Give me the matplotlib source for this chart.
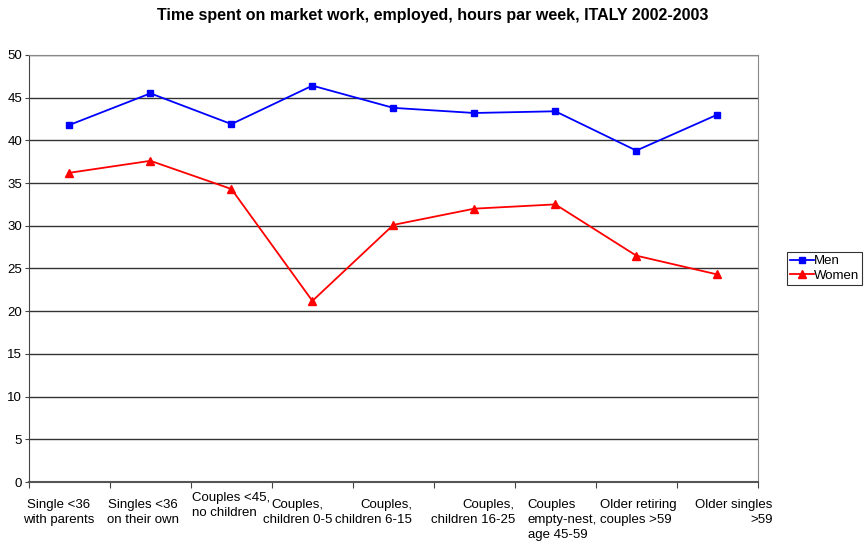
import matplotlib.pyplot as plt
import numpy as np

plt.rcParams['font.family'] = ['Liberation Sans', 'DejaVu Sans']

# ── data ─────────────────────────────
categories = ["Single <36\nwith parents", "Singles <36\non their own",
              "Couples <45,\nno children", "Couples,\nchildren 0-5",
              "Couples,\nchildren 6-15", "Couples,\nchildren 16-25",
              "Couples\nempty-nest,\nage 45-59", "Older retiring\ncouples >59",
              "Older singles\n>59"]
men = [41.8, 45.5, 41.9, 46.4, 43.8, 43.2, 43.4, 38.8, 43.0]
women = [36.2, 37.6, 34.3, 21.2, 30.1, 32.0, 32.5, 26.5, 24.3]

# Excel-style label placement: (x in data units, alignment, y in axes fraction)
label_x = [-0.13, 0.907, 1.512, 2.82, 4.23, 5.50, 5.66, 6.55, 8.685]
label_ha = ["center", "center", "left", "center", "right", "right", "left", "left", "right"]
label_y = [-0.040, -0.040, -0.023, -0.040, -0.040, -0.040, -0.040, -0.040, -0.040]

# ── figure ───────────────────────────
fig = plt.figure(figsize=(8.65, 5.49), dpi=100)
ax = fig.add_axes([0.0335, 0.122, 0.8425, 0.778])

x = np.arange(len(categories))
ax.plot(x, men, color="#0000ff", marker="s", markersize=5, lw=1.3, label="Men")
ax.plot(x, women, color="#ff0000", marker="^", markersize=5.5, lw=1.3, label="Women")

ax.set_xlim(-0.5, len(categories) - 0.5)
ax.set_ylim(0, 50)
ax.set_yticks(np.arange(0, 51, 5))
ax.yaxis.grid(True, color="#333333", lw=1)
ax.set_axisbelow(True)

# category boundaries as tick marks, labels drawn as text
ax.set_xticks(np.arange(-0.5, len(categories)))
ax.set_xticklabels([])
ax.tick_params(axis="x", length=4, direction="out", color="#444444")
ax.tick_params(axis="y", length=3, direction="out", labelsize=9.5, pad=2, color="#444444")

for i, lab in enumerate(categories):
    ax.text(label_x[i], label_y[i], lab, transform=ax.get_xaxis_transform(),
            ha=label_ha[i], ma=label_ha[i], va="top", fontsize=9.5, linespacing=1.35)

for sp in ["top", "right"]:
    ax.spines[sp].set_color("#888888")
ax.spines["left"].set_color("#444444")
ax.spines["bottom"].set_color("#555555")
ax.spines["bottom"].set_linewidth(1.5)

fig.text(0.5, 1 - 8 / 549, "Time spent on market work, employed, hours par week, ITALY 2002-2003",
         ha="center", va="top", fontsize=11.5, fontweight="bold")

leg = ax.legend(loc="center left", bbox_to_anchor=(1.040, 0.5), fontsize=9.5,
                frameon=True, fancybox=False, handlelength=1.8, handletextpad=0.0,
                borderpad=0.25, labelspacing=0.15, borderaxespad=0)
leg.get_frame().set_edgecolor("black")
leg.get_frame().set_linewidth(0.8)

fig.savefig("out.png", dpi=100)
